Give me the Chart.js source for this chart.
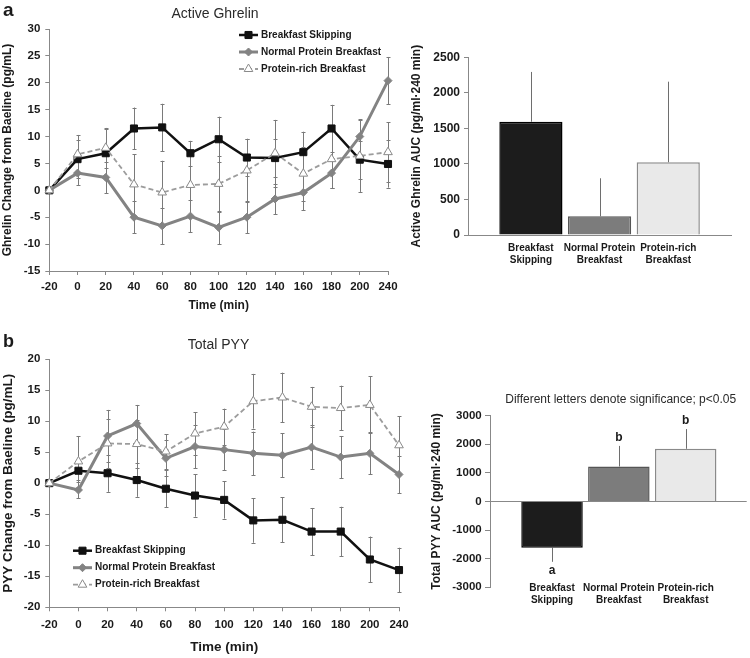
<!DOCTYPE html>
<html>
<head>
<meta charset="utf-8">
<script src="https://cdn.jsdelivr.net/npm/chart.js@4.4.0/dist/chart.umd.min.js"></script>
<style>
  html, body { margin: 0; padding: 0; background: #fff; }
  #wrap { position: relative; width: 750px; height: 658px; overflow: hidden; background: #fff; }
  canvas { position: absolute; }
</style>
</head>
<body>
<div id="wrap">
  <canvas id="ghrelinLine" width="420" height="320" style="left:0;top:0"></canvas>
  <canvas id="pyyLine" width="420" height="328" style="left:0;top:330px"></canvas>
  <canvas id="ghrelinAuc" width="370" height="330" style="left:380px;top:0"></canvas>
  <canvas id="pyyAuc" width="370" height="328" style="left:380px;top:330px"></canvas>
</div>
<script>
const FONT = "'Liberation Sans', Arial, Helvetica, sans-serif";
const INK = "#1a1a1a";
const AXIS = "#888";

// time points (min) -- note there is no 220 in the original axis
const timeLabels = ["-20", "0", "20", "40", "60", "80", "100", "120", "140", "160", "180", "200", "240"];
const seriesNames = ["Breakfast Skipping", "Normal Protein Breakfast", "Protein-rich Breakfast"];

// Active ghrelin, change from baseline (pg/mL), mean and SE
const ghrelinSkip = [0, 5.8, 6.9, 11.5, 11.7, 6.9, 9.5, 6.1, 6.0, 7.1, 11.5, 5.7, 4.9];
const ghrelinSkipErr = [0, 3.5, 4.5, 3.9, 4.4, 2.3, 4.2, 3.5, 3.5, 3.8, 4.4, 3.5, 4.4];
const ghrelinNormal = [0, 3.2, 2.4, -5.0, -6.6, -4.8, -6.9, -5.0, -1.6, -0.4, 3.2, 10.0, 20.4];
const ghrelinNormalErr = [0, 2.2, 2.9, 3.0, 3.4, 3.0, 3.1, 3.0, 2.8, 3.3, 2.8, 3.2, 4.4];
const ghrelinRich = [0, 6.7, 7.9, 1.1, -0.4, 1.0, 1.2, 3.7, 6.9, 3.1, 5.8, 6.4, 7.1];
const ghrelinRichErr = [0, 3.6, 3.7, 5.6, 5.9, 5.6, 5.2, 5.8, 6.2, 5.0, 5.4, 6.7, 5.6];

// Total PYY, change from baseline (pg/mL)
const pyySkip = [0, 2.0, 1.6, 0.5, -0.9, -2.0, -2.7, -6.0, -5.9, -7.8, -7.8, -12.3, -14.0];
const pyySkipErr = [0, 1.5, 3.0, 2.7, 3.0, 3.4, 3.0, 3.6, 3.6, 3.8, 4.0, 3.7, 3.6];
const pyyNormal = [0, -1.1, 7.6, 9.6, 4.0, 5.9, 5.4, 4.8, 4.5, 5.8, 4.2, 4.8, 1.4];
const pyyNormalErr = [0, 1.3, 4.2, 3.0, 2.9, 3.5, 3.3, 3.5, 3.5, 3.5, 3.4, 3.4, 3.0];
const pyyRich = [0, 3.5, 6.4, 6.3, 5.1, 8.0, 9.1, 13.2, 13.8, 12.3, 12.1, 12.6, 6.1];
const pyyRichErr = [0, 4.1, 4.0, 3.8, 2.8, 3.4, 2.9, 4.4, 4.0, 3.2, 3.6, 4.6, 4.7];

// AUC over 240 min
const aucLabels = [["Breakfast", "Skipping"], ["Normal Protein", "Breakfast"], ["Protein-rich", "Breakfast"]];
const ghrelinAuc = [1594, 263, 1023];
const ghrelinAucErr = [700, 535, 1134];
const pyyAuc = [-1619, 1224, 1843];
const pyyAucErr = [490, 720, 690];
const pyyLetters = ["a", "b", "b"];

const barFill = ["#1c1c1c", "#7c7c7c", "#e9e9e9"];
const barEdge = ["#000000", "#555555", "#8a8a8a"];

function lineStyles(i) {
  if (i === 0) return { borderColor: "#111", borderWidth: 2.5, pointStyle: "rect", pointRadius: 5,
    pointBackgroundColor: "#111", pointBorderColor: "#111", pointBorderWidth: 1, order: 3 };
  if (i === 1) return { borderColor: "#838383", borderWidth: 3, pointStyle: "rectRot", pointRadius: 4,
    pointBackgroundColor: "#838383", pointBorderColor: "#838383", pointBorderWidth: 1, order: 2 };
  return { borderColor: "#9c9c9c", borderWidth: 1.8, borderDash: [5, 3], pointStyle: "triangle", pointRadius: 5,
    pointBackgroundColor: "#fff", pointBorderColor: "#8a8a8a", pointBorderWidth: 1, order: 1 };
}

function errorBars(errs, cfg) {
  return {
    id: "errorBars",
    beforeDatasetsDraw(chart) {
      const ctx = chart.ctx, ys = chart.scales.y;
      ctx.save();
      ctx.lineWidth = 1;
      ctx.strokeStyle = cfg.color;
      errs.forEach((list, di) => {
        const meta = chart.getDatasetMeta(di);
        const vals = chart.data.datasets[di].data;
        meta.data.forEach((el, i) => {
          const e = list[i];
          if (!e) return;
          const v = typeof vals[i] === "object" ? vals[i].y : vals[i];
          let hi = v + e, lo = v - e;
          if (cfg.away) { if (v >= 0) lo = v; else hi = v; }
          const x = Math.round(el.x) + 0.5;
          const y1 = ys.getPixelForValue(hi), y2 = ys.getPixelForValue(lo);
          ctx.beginPath();
          ctx.moveTo(x, y1); ctx.lineTo(x, y2);
          if (cfg.cap) {
            ctx.moveTo(x - cfg.cap, Math.round(y1) + 0.5); ctx.lineTo(x + cfg.cap, Math.round(y1) + 0.5);
            ctx.moveTo(x - cfg.cap, Math.round(y2) + 0.5); ctx.lineTo(x + cfg.cap, Math.round(y2) + 0.5);
          }
          ctx.stroke();
        });
      });
      ctx.restore();
    }
  };
}

function insideLegend(cfg) {
  return {
    id: "insideLegend",
    afterDraw(chart) {
      const ctx = chart.ctx;
      chart.data.datasets.forEach((ds, i) => {
        const y = cfg.y + i * cfg.gap;
        ctx.save();
        ctx.strokeStyle = ds.borderColor;
        ctx.lineWidth = ds.borderWidth;
        ctx.setLineDash(ds.borderDash || []);
        ctx.beginPath();
        ctx.moveTo(cfg.x, y); ctx.lineTo(cfg.x + cfg.len, y);
        ctx.stroke();
        ctx.setLineDash([]);
        ctx.fillStyle = ds.pointBackgroundColor;
        ctx.strokeStyle = ds.pointBorderColor;
        ctx.lineWidth = ds.pointBorderWidth;
        Chart.helpers.drawPoint(ctx, { pointStyle: ds.pointStyle, radius: ds.pointRadius,
          borderWidth: ds.pointBorderWidth, rotation: 0 }, cfg.x + cfg.len / 2, y);
        ctx.fillStyle = INK;
        ctx.font = "bold 10px " + FONT;
        ctx.textAlign = "left";
        ctx.textBaseline = "middle";
        ctx.fillText(ds.label, cfg.x + cfg.len + 3, y);
        ctx.restore();
      });
    }
  };
}

function freeText(items) {
  return {
    id: "freeText",
    afterDraw(chart) {
      const ctx = chart.ctx;
      ctx.save();
      items.forEach(t => {
        ctx.font = t.font;
        ctx.fillStyle = t.color || INK;
        ctx.textAlign = t.align || "center";
        ctx.textBaseline = t.base || "middle";
        ctx.fillText(t.text, t.x, t.y);
      });
      ctx.restore();
    }
  };
}

function sigLetters(letters, errs) {
  return {
    id: "sigLetters",
    afterDatasetsDraw(chart) {
      const ctx = chart.ctx, ys = chart.scales.y;
      const vals = chart.data.datasets[0].data;
      ctx.save();
      ctx.font = "bold 12px " + FONT;
      ctx.fillStyle = INK;
      ctx.textAlign = "center";
      ctx.textBaseline = "middle";
      chart.getDatasetMeta(0).data.forEach((bar, i) => {
        const v = vals[i].y;
        const end = v >= 0 ? v + errs[i] : v - errs[i];
        ctx.fillText(letters[i], bar.x, ys.getPixelForValue(end) + (v >= 0 ? -8 : 9));
      });
      ctx.restore();
    }
  };
}

// category labels that sit level with the bottom of the y axis (the scale would clip them)
function lowLabels(offsetY) {
  return {
    id: "lowLabels",
    afterDraw(chart) {
      const ctx = chart.ctx, xs = chart.scales.x;
      ctx.save();
      ctx.font = "bold 10px " + FONT;
      ctx.fillStyle = INK;
      ctx.textAlign = "center";
      ctx.textBaseline = "middle";
      aucLabels.forEach((lines, i) => {
        const x = xs.getPixelForValue(i + 1);
        lines.forEach((s, k) => ctx.fillText(s, x, chart.chartArea.bottom + offsetY + k * 11.7));
      });
      ctx.restore();
    }
  };
}

function lineChart(id, series, errs, o) {
  return new Chart(document.getElementById(id), {
    type: "line",
    data: {
      labels: timeLabels,
      datasets: series.map((d, i) => Object.assign({ label: seriesNames[i], data: d, tension: 0, clip: false }, lineStyles(i)))
    },
    options: {
      responsive: false,
      animation: false,
      devicePixelRatio: 1,
      layout: { padding: o.padding },
      plugins: { legend: { display: false }, tooltip: { enabled: false } },
      scales: {
        x: {
          offset: false,
          grid: { display: true, drawOnChartArea: false, tickLength: 4, color: AXIS },
          border: { color: AXIS },
          ticks: { font: { size: 11.5, weight: "bold" }, color: INK, padding: o.xPad, autoSkip: false, maxRotation: 0 },
          title: { display: true, text: "Time (min)", font: { size: o.titleSize, weight: "bold" }, color: INK, padding: 0 },
          afterFit: s => { s.height = o.xHeight; }
        },
        y: {
          min: o.min, max: o.max,
          grid: { drawOnChartArea: false, tickLength: 4, color: AXIS },
          border: { color: AXIS },
          ticks: { stepSize: 5, font: { size: 11.5, weight: "bold" }, color: INK, padding: 5 },
          title: { display: true, text: o.yTitle, font: { size: o.titleSize, weight: "bold" }, color: INK, padding: 0 },
          afterFit: s => { s.width = 49.3; }
        }
      }
    },
    plugins: [errorBars(errs, { color: "#7a7a7a", cap: 2 }), insideLegend(o.legend), freeText(o.texts)]
  });
}

function aucChart(id, values, errs, o) {
  return new Chart(document.getElementById(id), {
    type: "bar",
    data: {
      datasets: [{
        data: values.map((v, i) => ({ x: i + 1, y: v })),
        backgroundColor: barFill,
        borderColor: barEdge,
        borderWidth: 1.5,
        barPercentage: 0.92,
        categoryPercentage: 1
      }]
    },
    options: {
      responsive: false,
      animation: false,
      devicePixelRatio: 1,
      layout: { padding: o.padding },
      plugins: { legend: { display: false }, tooltip: { enabled: false } },
      scales: {
        x: {
          type: "linear",
          offset: false,
          min: o.xMin, max: o.xMax,
          grid: { display: false, drawTicks: false, offset: false },
          border: { display: o.xBorder, color: AXIS },
          afterBuildTicks: s => { s.ticks = aucLabels.map((l, i) => ({ value: i + 1 })); },
          ticks: { display: o.xTicks, callback: v => aucLabels[v - 1], font: { size: 10, weight: "bold" }, color: INK,
            padding: o.xPad, autoSkip: false, maxRotation: 0 },
          afterFit: s => { s.height = o.xHeight; }
        },
        y: {
          min: o.min, max: o.max,
          grid: o.grid,
          border: { color: AXIS },
          ticks: { stepSize: o.step, callback: v => String(v), font: { size: o.tickSize, weight: "bold" }, color: INK, padding: o.yPad },
          title: { display: true, text: o.yTitle, font: { size: 12, weight: "bold" }, color: INK, padding: 0 },
          afterFit: s => { s.width = o.yWidth; }
        }
      }
    },
    plugins: [errorBars([errs], { color: "#6e6e6e", cap: 0, away: true })].concat(o.extra || [])
  });
}

lineChart("ghrelinLine", [ghrelinSkip, ghrelinNormal, ghrelinRich], [ghrelinSkipErr, ghrelinNormalErr, ghrelinRichErr], {
  padding: { left: 0, top: 29, right: 32, bottom: 7.3 },
  xHeight: 41.7, xPad: 5, titleSize: 12, min: -15, max: 30,
  yTitle: "Ghrelin Change from Baeline (pg/mL)",
  legend: { x: 239, y: 35, gap: 17, len: 19 },
  texts: [
    { text: "a", x: 3, y: 15.5, font: "bold 19px " + FONT, align: "left", base: "alphabetic" },
    { text: "Active Ghrelin", x: 215, y: 14, font: "14px " + FONT, color: "#2a2a2a" }
  ]
});

lineChart("pyyLine", [pyySkip, pyyNormal, pyyRich], [pyySkipErr, pyyNormalErr, pyyRichErr], {
  padding: { left: 0, top: 29, right: 21, bottom: 2.6 },
  xHeight: 48.1, xPad: 6.8, titleSize: 13.5, min: -20, max: 20,
  yTitle: "PYY Change from Baeline (pg/mL)",
  legend: { x: 73, y: 220.7, gap: 17, len: 19 },
  texts: [
    { text: "b", x: 3, y: 17, font: "bold 18px " + FONT, align: "left", base: "alphabetic" },
    { text: "Total PYY", x: 218.5, y: 15, font: "14px " + FONT, color: "#2a2a2a" }
  ]
});

aucChart("ghrelinAuc", ghrelinAuc, ghrelinAucErr, {
  padding: { left: 29.8, top: 57.3, right: 18.3, bottom: 64 },
  yWidth: 58.2, xHeight: 31, xPad: 7, xBorder: true, xTicks: true,
  xMin: 0.084, xMax: 3.924,
  min: 0, max: 2500, step: 500, tickSize: 12, yPad: 4,
  grid: { drawOnChartArea: false, tickLength: 4, color: AXIS },
  yTitle: "Active Ghrelin AUC (pg/ml\u00b7240 min)"
});

aucChart("pyyAuc", pyyAuc, pyyAucErr, {
  padding: { left: 49.5, top: 85.7, right: 3.3, bottom: 45.7 },
  yWidth: 60.5, xHeight: 25, xPad: 0, xBorder: false, xTicks: false,
  xMin: 0.072, xMax: 3.913,
  min: -3000, max: 3000, step: 1000, tickSize: 11.5, yPad: 3.3,
  grid: {
    drawOnChartArea: true, tickLength: 5, tickColor: AXIS,
    color: c => (c.tick && c.tick.value === 0 ? AXIS : "rgba(0,0,0,0)")
  },
  yTitle: "Total PYY AUC (pg/ml\u00b7240 min)",
  extra: [
    sigLetters(pyyLetters, pyyAucErr),
    lowLabels(1),
    freeText([{ text: "Different letters denote significance; p<0.05", x: 240.7, y: 69.3, font: "12px " + FONT, color: "#2a2a2a" }])
  ]
});
</script>
</body>
</html>
